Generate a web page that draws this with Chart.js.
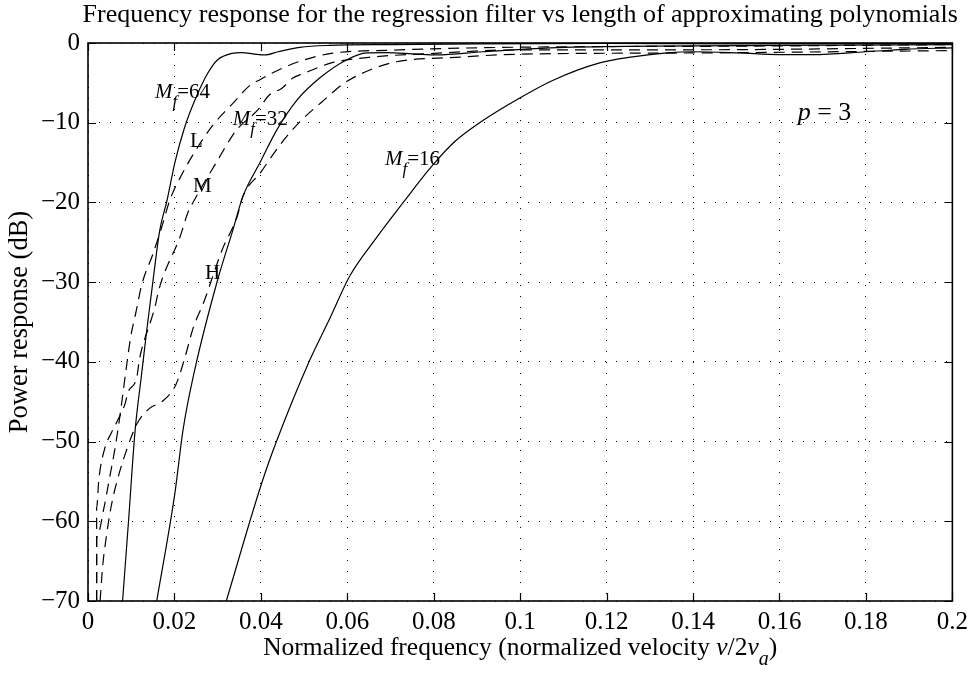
<!DOCTYPE html>
<html>
<head>
<meta charset="utf-8">
<title>Regression filter frequency response</title>
<script src="https://cdn.jsdelivr.net/npm/chart.js@4"></script>
<style>
    body { margin: 0; background: #fff; }
    canvas { display: block; }
</style>
</head>
<body>
<canvas id="responseChart" width="974" height="675"></canvas>
<script>
// Regression filters, solid lines (normalized frequency, power response in dB)
const m64Freq = [0.0080, 0.0094, 0.0109, 0.0123, 0.0136, 0.0150, 0.0166, 0.0183, 0.0201, 0.0224, 0.0247, 0.0277, 0.0300, 0.0333, 0.0356, 0.0386, 0.0410, 0.0440, 0.0490, 0.0560, 0.0700, 0.0900, 0.1200, 0.1500, 0.2000];
const m64Db = [-70, -59.8, -48.6, -42, -36, -30, -23.5, -19.7, -15, -10.5, -7.2, -3.8, -2.1, -1.3, -1.2, -1.4, -1.5, -1.1, -0.55, -0.3, -0.2, -0.1, -0.05, -0.1, -0.05];

const m32Freq = [0.0159, 0.0201, 0.0220, 0.0247, 0.0300, 0.0335, 0.0358, 0.0398, 0.0437, 0.0483, 0.0536, 0.0599, 0.0645, 0.0690, 0.0760, 0.0807, 0.0913, 0.1070, 0.1300, 0.1600, 0.2000];
const m32Db = [-70, -56.5, -48.5, -41, -29.7, -23.5, -19.3, -15, -10.9, -7.2, -4.4, -2.1, -1.25, -1.2, -1.4, -1.5, -1.1, -0.6, -0.4, -0.3, -0.2];

const m16Freq = [0.0320, 0.0402, 0.0436, 0.0513, 0.0560, 0.0606, 0.0665, 0.0728, 0.0798, 0.0850, 0.0906, 0.0999, 0.1075, 0.1184, 0.1260, 0.1339, 0.1400, 0.1507, 0.1600, 0.1676, 0.1800, 0.1890, 0.2000];
const m16Db = [-70, -55.2, -50, -39.8, -34.5, -29.2, -24.6, -20.1, -15.3, -12.3, -10.0, -6.9, -4.7, -2.5, -1.75, -1.25, -1.1, -1.25, -1.45, -1.45, -1.1, -0.8, -0.6];

// Comparison filters L, M, H, dashed lines
const lowFreq = [0.0020, 0.0020, 0.0037, 0.0049, 0.0062, 0.0072, 0.0080, 0.0088, 0.0099, 0.0110, 0.0125, 0.0150, 0.0170, 0.0190, 0.0218, 0.0250, 0.0289, 0.0333, 0.0375, 0.0398, 0.0425, 0.0490, 0.0563, 0.0700, 0.0900, 0.1200, 0.1500, 0.2000];
const lowDb = [-70, -62, -58.3, -54.8, -51, -47.5, -44.3, -41, -36.8, -34, -30.2, -26.5, -23.2, -19.6, -16.4, -13.4, -10.3, -7.7, -5.3, -4.6, -3.8, -2.3, -1.3, -0.9, -0.6, -0.45, -0.4, -0.2];

const midFreq = [0.0020, 0.0020, 0.0025, 0.0038, 0.0055, 0.0067, 0.0086, 0.0092, 0.0113, 0.0119, 0.0148, 0.0155, 0.0162, 0.0171, 0.0213, 0.0231, 0.0243, 0.0300, 0.0332, 0.0347, 0.0393, 0.0420, 0.0448, 0.0474, 0.0500, 0.0536, 0.0563, 0.0650, 0.0800, 0.1000, 0.1400, 0.2000];
const midDb = [-70, -58.3, -54.8, -51, -48.8, -47.5, -45.2, -43.9, -41.9, -39.7, -34.4, -33.1, -31.4, -29.7, -24.3, -21.3, -20, -14.7, -11.8, -10.7, -8.4, -6.5, -5.7, -4.4, -3.8, -3.0, -2.5, -1.8, -1.3, -0.85, -0.85, -0.55];

const highFreq = [0.0028, 0.0034, 0.0042, 0.0053, 0.0068, 0.0089, 0.0113, 0.0143, 0.0171, 0.0203, 0.0224, 0.0243, 0.0268, 0.0310, 0.0345, 0.0358, 0.0400, 0.0444, 0.0490, 0.0541, 0.0594, 0.0652, 0.0714, 0.0850, 0.1000, 0.1400, 0.2000];
const highDb = [-70, -65.6, -62.1, -58.3, -54.8, -51.1, -47.8, -45.8, -45, -42.9, -39.5, -35.8, -32.5, -26, -21.8, -19.3, -16.2, -12.8, -9.9, -7.4, -5.0, -3.39, -2.35, -1.8, -1.4, -1.25, -0.95];

// Axis ticks
const xTickValues = [0, 0.02, 0.04, 0.06, 0.08, 0.1, 0.12, 0.14, 0.16, 0.18, 0.2];
const xTickLabels = ['0', '0.02', '0.04', '0.06', '0.08', '0.1', '0.12', '0.14', '0.16', '0.18', '0.2'];
const yTickValues = [0, -10, -20, -30, -40, -50, -60, -70];
const yTickLabels = ['0', '\u221210', '\u221220', '\u221230', '\u221240', '\u221250', '\u221260', '\u221270'];

// Text placed in data coordinates
const mfLabels = ['64', '32', '16'];
const mfLabelFreq = [0.0155, 0.0335, 0.0687];
const mfLabelDb = [-6.9, -10.3, -15.3];
const filterLabels = ['L', 'M', 'H'];
const filterLabelFreq = [0.0236, 0.0243, 0.0271];
const filterLabelDb = [-13.05, -18.7, -29.6];

const chartTitle = 'Frequency response for the regression filter vs length of approximating polynomials';

document.addEventListener('DOMContentLoaded', function () {
    const serif = '"Liberation Serif", "Times New Roman", serif';

    function toPoints(freq, db) {
        return freq.map((f, i) => ({ x: f, y: db[i] }));
    }

    function lineSet(label, freq, db, dashed) {
        return {
            label: label,
            data: toPoints(freq, db),
            showLine: true,
            borderColor: '#000',
            borderWidth: 1.2,
            borderDash: dashed ? [11, 7] : [],
            pointRadius: 0,
            cubicInterpolationMode: 'monotone',
            fill: false
        };
    }

    // frame, inward tick marks, title and the text inside / below the plot
    const matlabAxes = {
        id: 'matlabAxes',
        afterDatasetsDraw(chart) {
            const ctx = chart.ctx;
            const area = chart.chartArea;
            const xs = chart.scales.x;
            const ys = chart.scales.y;
            const tick = 8;
            const midX = (area.left + area.right) / 2;

            ctx.save();
            ctx.strokeStyle = '#000';
            ctx.lineWidth = 1.2;
            ctx.beginPath();
            xTickValues.forEach(v => {
                const px = Math.round(xs.getPixelForValue(v)) + 0.5;
                ctx.moveTo(px, area.bottom); ctx.lineTo(px, area.bottom - tick);
                ctx.moveTo(px, area.top); ctx.lineTo(px, area.top + tick);
            });
            yTickValues.forEach(v => {
                const py = Math.round(ys.getPixelForValue(v)) + 0.5;
                ctx.moveTo(area.left, py); ctx.lineTo(area.left + tick, py);
                ctx.moveTo(area.right, py); ctx.lineTo(area.right - tick, py);
            });
            ctx.stroke();

            ctx.lineWidth = 1.6;
            ctx.strokeRect(area.left, area.top, area.right - area.left, area.bottom - area.top);

            ctx.fillStyle = '#000';
            ctx.textBaseline = 'alphabetic';

            // title, centred over the axes like MATLAB does
            ctx.textAlign = 'center';
            ctx.font = '26px ' + serif;
            ctx.fillText(chartTitle, midX, 22);

            ctx.textAlign = 'left';

            // M_f = nn labels
            mfLabels.forEach((txt, i) => {
                let px = xs.getPixelForValue(mfLabelFreq[i]);
                const py = ys.getPixelForValue(mfLabelDb[i]);
                ctx.font = 'italic 21px ' + serif;
                ctx.fillText('M', px, py);
                px += ctx.measureText('M').width;
                ctx.font = 'italic 17px ' + serif;
                ctx.fillText('f', px, py + 9);
                px += ctx.measureText('f').width;
                ctx.font = '21px ' + serif;
                ctx.fillText('=' + txt, px, py);
            });

            ctx.font = '21px ' + serif;
            filterLabels.forEach((txt, i) => {
                ctx.fillText(txt, xs.getPixelForValue(filterLabelFreq[i]), ys.getPixelForValue(filterLabelDb[i]));
            });

            // p = 3
            let px = xs.getPixelForValue(0.1642);
            const py = ys.getPixelForValue(-9.6);
            ctx.font = 'italic 26px ' + serif;
            ctx.fillText('p', px, py);
            px += ctx.measureText('p').width;
            ctx.font = '26px ' + serif;
            ctx.fillText(' = 3', px, py);

            // x axis title with italic v and subscript a
            const parts = [
                ['Normalized frequency (normalized velocity ', '', 0, 25.5],
                ['v', 'italic ', 0, 25.5],
                ['/2', '', 0, 25.5],
                ['v', 'italic ', 0, 25.5],
                ['a', 'italic ', 10, 20],
                [')', '', 0, 25.5]
            ];
            let total = 0;
            parts.forEach(p => {
                ctx.font = p[1] + p[3] + 'px ' + serif;
                total += ctx.measureText(p[0]).width;
            });
            let tx = midX - total / 2;
            const ty = 655;
            parts.forEach(p => {
                ctx.font = p[1] + p[3] + 'px ' + serif;
                ctx.fillText(p[0], tx, ty + p[2]);
                tx += ctx.measureText(p[0]).width;
            });
            ctx.restore();
        }
    };

    const ctx = document.getElementById('responseChart').getContext('2d');
    new Chart(ctx, {
        type: 'scatter',
        data: {
            datasets: [
                lineSet('M_f = 64', m64Freq, m64Db, false),
                lineSet('M_f = 32', m32Freq, m32Db, false),
                lineSet('M_f = 16', m16Freq, m16Db, false),
                lineSet('L', lowFreq, lowDb, true),
                lineSet('M', midFreq, midDb, true),
                lineSet('H', highFreq, highDb, true)
            ]
        },
        options: {
            responsive: false,
            animation: false,
            devicePixelRatio: 1,
            layout: { padding: { top: 43, right: 21, bottom: 0, left: 0 } },
            plugins: {
                legend: { display: false },
                tooltip: { enabled: false },
                title: { display: false }
            },
            scales: {
                x: {
                    type: 'linear',
                    min: 0,
                    max: 0.2,
                    afterFit(scale) { scale.height = 74; },
                    afterBuildTicks(scale) { scale.ticks = xTickValues.map(v => ({ value: v })); },
                    ticks: {
                        color: '#000',
                        padding: 6,
                        maxRotation: 0,
                        font: { family: serif, size: 25 },
                        callback: (value, index) => xTickLabels[index]
                    },
                    grid: { color: '#000', lineWidth: 1, drawTicks: false },
                    border: { display: false, dash: [1, 10] }
                },
                y: {
                    type: 'linear',
                    min: -70,
                    max: 0,
                    afterFit(scale) { scale.width = 88; },
                    afterBuildTicks(scale) { scale.ticks = yTickValues.slice().reverse().map(v => ({ value: v })); },
                    ticks: {
                        color: '#000',
                        padding: 8,
                        font: { family: serif, size: 25 },
                        callback: (value) => yTickLabels[yTickValues.indexOf(value)]
                    },
                    grid: { color: '#000', lineWidth: 1, drawTicks: false },
                    border: { display: false, dash: [1, 10] },
                    title: {
                        display: true,
                        text: 'Power response (dB)',
                        color: '#000',
                        font: { family: serif, size: 26.5 },
                        padding: { top: 4, bottom: 0 }
                    }
                }
            }
        },
        plugins: [matlabAxes]
    });
});
</script>
</body>
</html>
